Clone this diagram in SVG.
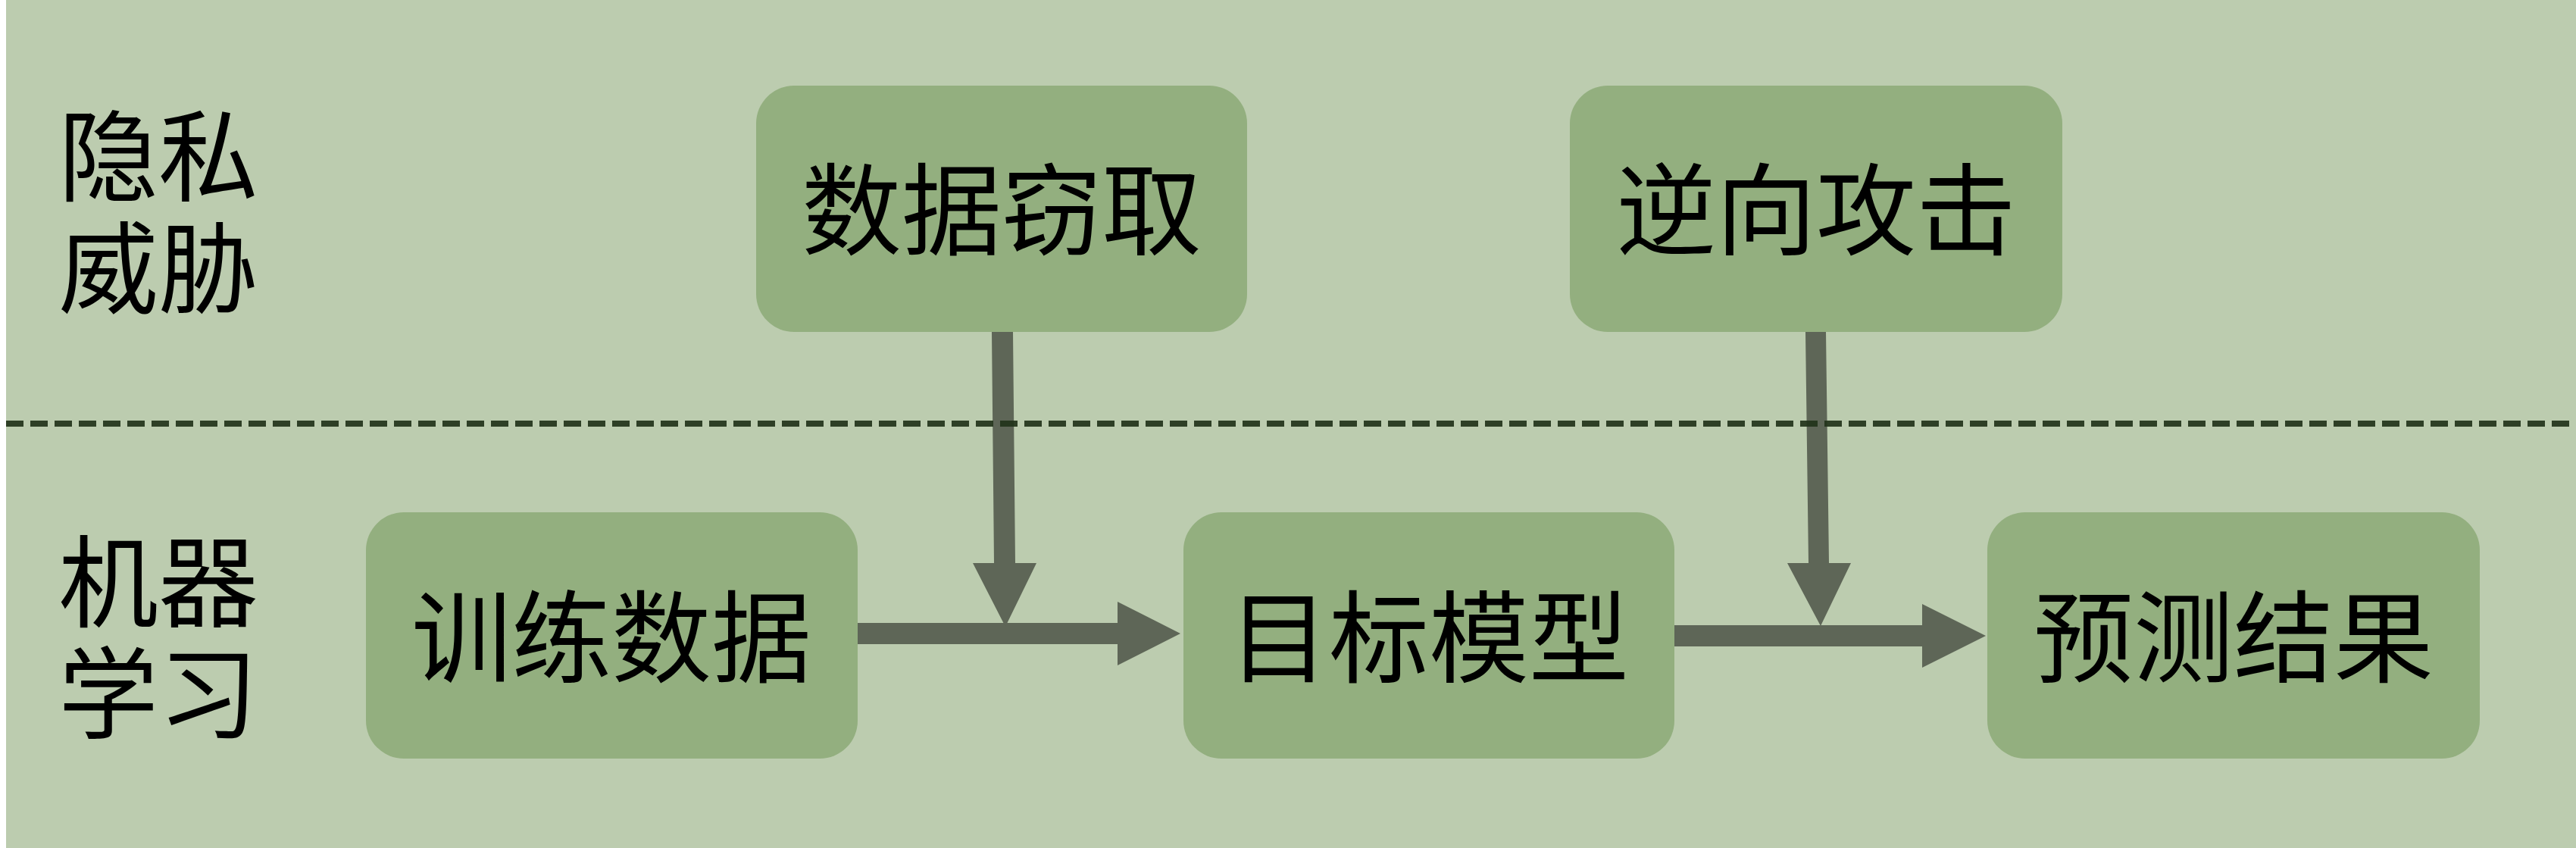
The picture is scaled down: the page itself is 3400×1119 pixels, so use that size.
<svg xmlns="http://www.w3.org/2000/svg" width="3400" height="1119" viewBox="0 0 3400 1119">
  <style>
    .box { fill: #93AF7F; }
    .lbl { font-family: "Noto Sans CJK SC", "Noto Sans", sans-serif; font-size: 132px; fill: #000000; text-anchor: middle; }
    .arrow { fill: #5E6657; }
  </style>
  <rect x="0" y="0" width="3400" height="1119" fill="#FFFFFF"/>
  <rect x="8" y="0" width="3392" height="1119" fill="#BCCCAF"/>

  <g id="label-privacy">
    <text class="lbl"><tspan x="209" y="255">隐私</tspan><tspan x="209" y="403">威胁</tspan></text>
  </g>
  <g id="label-ml">
    <text class="lbl"><tspan x="209" y="817">机器</tspan><tspan x="209" y="964">学习</tspan></text>
  </g>

  <g id="node-steal">
    <rect class="box" x="998" y="113" width="648" height="325" rx="50" ry="50"/>
    <text class="lbl" x="1322" y="326">数据窃取</text>
  </g>
  <g id="node-inverse">
    <rect class="box" x="2072" y="113" width="650" height="325" rx="50" ry="50"/>
    <text class="lbl" x="2397" y="326">逆向攻击</text>
  </g>
  <g id="node-train">
    <rect class="box" x="483" y="676" width="649" height="325" rx="50" ry="50"/>
    <text class="lbl" x="807" y="890">训练数据</text>
  </g>
  <g id="node-model">
    <rect class="box" x="1562" y="676" width="648" height="325" rx="50" ry="50"/>
    <text class="lbl" x="1886" y="890">目标模型</text>
  </g>
  <g id="node-result">
    <rect class="box" x="2623" y="676" width="650" height="325" rx="50" ry="50"/>
    <text class="lbl" x="2948" y="890">预测结果</text>
  </g>

  <g id="connectors">
    <polygon class="arrow" points="1132,822 1475,822 1475,794 1558,836 1475,878 1475,850 1132,850"/>
    <polygon class="arrow" points="2210,825 2537,825 2537,797 2621,839 2537,881 2537,853 2210,853"/>
    <polygon class="arrow" points="1309,438 1337,438 1340,743 1368,743 1327,827 1284,743 1312,743"/>
    <polygon class="arrow" points="2383,438 2410,438 2414,743 2443,743 2403,826 2359,743 2387,743"/>
  </g>

  <line id="divider" x1="8" y1="559" x2="3400" y2="559" stroke="#22331A" stroke-width="8" stroke-dasharray="23 9" stroke-opacity="0.92"/>
</svg>
